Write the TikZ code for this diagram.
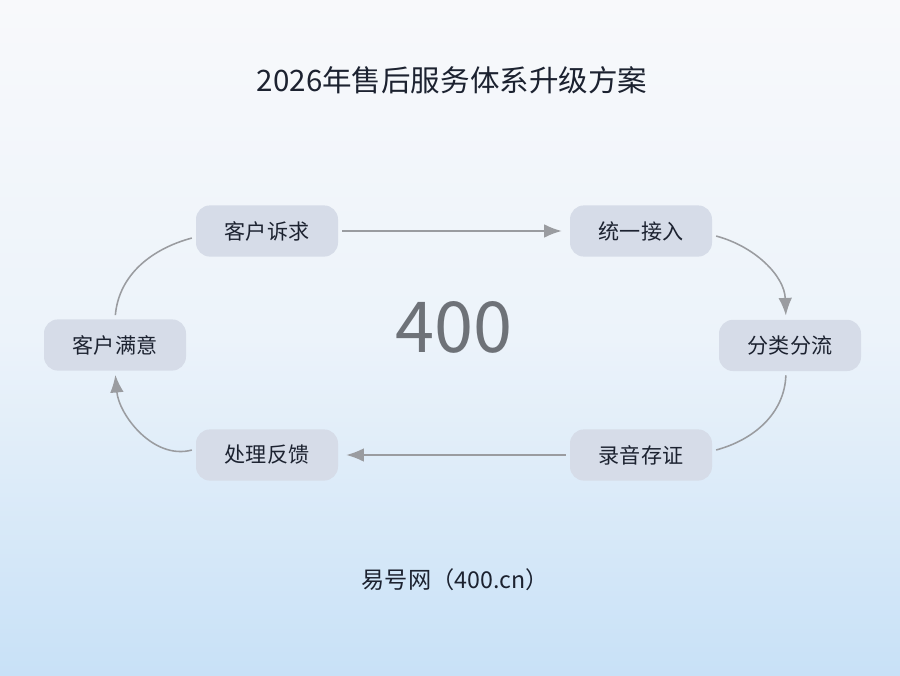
\documentclass[tikz,border=0pt]{standalone}
\usepackage{fontspec}
\setmainfont{Noto Sans CJK SC}
\usepackage{xcolor}
\usetikzlibrary{positioning, arrows.meta}
\definecolor{bgtop}{HTML}{F8F9FB}
\definecolor{bgbot}{HTML}{C8E1F7}
\definecolor{boxfill}{HTML}{D6DCE8}
\definecolor{flowgray}{HTML}{9A9CA0}
\definecolor{bigtext}{HTML}{6E7278}
\definecolor{inktext}{HTML}{1C2230}
\tikzset{
	% step box on the loop
	stepbox/.style={
		rectangle,
		rounded corners=3.5mm,
		fill=boxfill,
		minimum width=3.55cm,
		minimum height=1.28cm,
		text=inktext,
		font=\fontsize{15}{18}\selectfont
	}, %
	% connector between steps
	flow/.style={
		draw=flowgray,
		line width=1.1pt
	}, %
	flowtip/.style={
		flow,
		-{Latex[length=4.4mm,width=3.4mm]}
	} %
}

\begin{document}
\begin{tikzpicture}
			%% fond
			\shade [top color=bgtop, bottom color=bgbot, middle color=bgtop!75!bgbot] (0,0) rectangle (22.5,16.875);
			\useasboundingbox (0,0) rectangle (22.5,16.875);
			
			%% titre
			\node (title) [text=inktext, font=\fontsize{21}{25}\selectfont] at (11.3, 14.875) {2026年售后服务体系升级方案};
			
			%% etapes
			\node (khsq) [stepbox] at (6.675, 11.1) {客户诉求};
			\node (tyjr) [stepbox] at (16.025, 11.1) {统一接入};
			\node (flfl) [stepbox] at (19.75, 8.24) {分类分流};
			\node (lycz) [stepbox] at (16.025, 5.5) {录音存证};
			\node (clfk) [stepbox] at (6.675, 5.5) {处理反馈};
			\node (khmy) [stepbox] at (2.875, 8.25) {客户满意};
			
			\node (center) [text=bigtext, font=\fontsize{50}{58}\selectfont] at (11.35, 8.7) {400};
			\node (footer) [text=inktext, font=\fontsize{16.5}{20}\selectfont] at (11.375, 2.375) {易号网（400.cn）};
			
			%% boucle
			\draw [flowtip, shorten <=1mm, shorten >=2mm] (khsq.east) -- (tyjr.west);
			\draw [flowtip, shorten <=1mm, shorten >=1mm] ([yshift=-1mm]tyjr.east) to [out=-15, in=92] ([xshift=-1mm]flfl.north);
			\draw [flow, shorten <=1mm, shorten >=1mm] ([xshift=-1mm]flfl.south) to [out=-92, in=15] ([yshift=1mm]lycz.east);
			\draw [flowtip, shorten <=1mm, shorten >=2mm] (lycz.west) -- (clfk.east);
			\draw [flowtip, shorten <=1mm, shorten >=1mm] ([yshift=1.5mm]clfk.west) to [out=195, in=-85] (khmy.south);
			\draw [flow, shorten <=1mm, shorten >=1mm] (khmy.north) to [out=85, in=195] ([yshift=-1.5mm]khsq.west);
		\end{tikzpicture}
\end{document}
